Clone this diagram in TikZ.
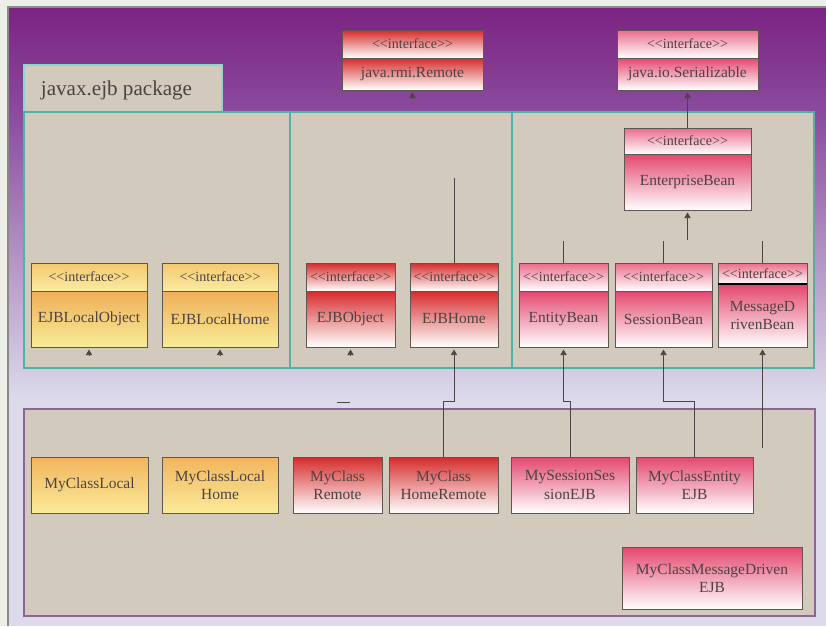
\documentclass[tikz,border=0pt]{standalone}
\usepackage{fontspec}
\setmainfont{Liberation Serif}
\usetikzlibrary{positioning, arrows.meta, calc, fit}

\definecolor{pagebg}{HTML}{EEEEE8}
\definecolor{framecol}{HTML}{8A8A88}
\definecolor{purpletop}{HTML}{7B2381}
\definecolor{purplemid}{HTML}{8A4B9E}
\definecolor{lavender}{HTML}{DCDAEB}
\definecolor{panelbg}{HTML}{D2CABD}
\definecolor{tealline}{HTML}{4FB2A3}
\definecolor{tabline}{HTML}{8ED6CC}
\definecolor{pkgline}{HTML}{8E6496}
\definecolor{edgecol}{HTML}{5F5650}
\definecolor{linecol}{HTML}{4A4444}
\definecolor{txtcol}{HTML}{4D4343}
\definecolor{redtop}{HTML}{D62B2B}
\definecolor{pinktop}{HTML}{E4476E}
\definecolor{lochdtop}{HTML}{F4C86E}
\definecolor{lochdbot}{HTML}{FBEBA2}
\definecolor{locbdtop}{HTML}{EFAF58}
\definecolor{locbdbot}{HTML}{F8EC98}
\definecolor{locclstop}{HTML}{F2B45C}
\definecolor{locclsbot}{HTML}{FAEB9A}

\tikzset{
  boxline/.style={draw=edgecol, line width=0.6pt},
  localhd/.style={top color=lochdtop, bottom color=lochdbot},
  localbd/.style={top color=locbdtop, bottom color=locbdbot},
  redhd/.style={top color=redtop, middle color=white, bottom color=white},
  redbd/.style={top color=redtop, middle color=redtop!35!white, bottom color=white},
  pinkhd/.style={top color=pinktop!80!white, middle color=white, bottom color=white},
  pinkbd/.style={top color=pinktop, middle color=pinktop!35!white, bottom color=white},
  localcls/.style={top color=locclstop, bottom color=locclsbot},
  redcls/.style={top color=redtop, middle color=redtop!15!white, bottom color=white},
  pinkcls/.style={top color=pinktop, middle color=pinktop!25!white, bottom color=white},
  stereo/.style={font=\fontsize{10}{11}\selectfont, text=txtcol, inner sep=0pt},
  cname/.style={font=\fontsize{11}{13}\selectfont, text=txtcol, align=center, inner sep=0pt},
  inh/.style={draw=linecol, line width=0.6pt, -{Triangle[width=4.5pt,length=4pt]}},
  plain/.style={draw=linecol, line width=0.6pt},
}

% Schnittstelle: Name, x1, y1, x2, y2, Trennlinie, Kopfstil, Rumpfstil, Text
\newcommand{\iface}[9]{%
  \path[#7] (#2,#3) rectangle (#4,#6);
  \path[#8] (#2,#6) rectangle (#4,#5);
  \draw[boxline] (#2,#6) -- (#4,#6);
  \node[boxline, fit={(#2,#3) (#4,#5)}, inner sep=0pt] (#1) {};
  \node[stereo] at ($(#2,#3)!0.5!(#4,#6)$) {{<}{<}interface{>}{>}};
  \node[cname] at ($(#2,#6)!0.5!(#4,#5)$) {#9};
}
% Klasse: Name, x1, y1, x2, y2, Stil, Text
\newcommand{\cls}[7]{%
  \node[boxline, #6, fit={(#2,#3) (#4,#5)}, inner sep=0pt] (#1) {};
  \node[cname] at (#1.center) {#7};
}

\begin{document}
\begin{tikzpicture}[x=0.025cm, y=-0.025cm]
\useasboundingbox (0,0) rectangle (826,626);

% Hintergrund
\fill[pagebg] (0,0) rectangle (826,626);
\shade[top color=purpletop, bottom color=purplemid] (8,7) rectangle (826,112);
\shade[top color=purplemid, bottom color=lavender] (8,112) rectangle (826,400);
\fill[lavender] (8,400) rectangle (826,626);
\draw[framecol, line width=1pt] (8,626) -- (8,7) -- (826,7);

% Paket javax.ejb
\filldraw[fill=panelbg, draw=tabline, line width=1pt] (24,65) rectangle (222,112);
\node[anchor=west, font=\fontsize{15}{17}\selectfont, text=txtcol] (tab) at (36,90) {javax.ejb package};
\filldraw[fill=panelbg, draw=tealline, line width=1.5pt] (24,112) rectangle (290,368);
\filldraw[fill=panelbg, draw=tealline, line width=1.5pt] (290,112) rectangle (512,368);
\filldraw[fill=panelbg, draw=tealline, line width=1.5pt] (512,112) rectangle (814,368);

% eigenes Paket
\filldraw[fill=panelbg, draw=pkgline, line width=1.2pt] (24,409) rectangle (815,616);

% Schnittstellen
\iface{remote}{342}{30}{483}{90}{58}{redhd}{redbd}{java.rmi.Remote}
\iface{serial}{617}{30}{758}{90}{58}{pinkhd}{pinkbd}{java.io.Serializable}
\iface{entbean}{624}{128}{751}{210}{154}{pinkhd}{pinkbd}{EnterpriseBean}
\iface{lobject}{31}{263}{147}{347}{291}{localhd}{localbd}{EJBLocalObject}
\iface{lhome}{162}{263}{278}{347}{291}{localhd}{localbd}{EJBLocalHome}
\iface{ejbobj}{306}{263}{395}{347}{291}{redhd}{redbd}{EJBObject}
\iface{ejbhome}{410}{263}{498}{347}{291}{redhd}{redbd}{EJBHome}
\iface{entity}{519}{263}{608}{347}{291}{pinkhd}{pinkbd}{EntityBean}
\iface{session}{615}{263}{712}{347}{291}{pinkhd}{pinkbd}{SessionBean}
\iface{msgdrv}{718}{263}{807}{347}{284}{pinkhd}{pinkbd}{MessageD\\rivenBean}
\draw[black, line width=1.2pt] (msgdrv.west |- 0,284) -- (msgdrv.east |- 0,284);

% Klassen
\cls{mylocal}{31}{457}{148}{513}{localcls}{MyClassLocal}
\cls{mylhome}{162}{457}{278}{513}{localcls}{MyClassLocal\\Home}
\cls{myremote}{293}{457}{382}{513}{redcls}{MyClass\\Remote}
\cls{myhremote}{389}{457}{498}{513}{redcls}{MyClass\\HomeRemote}
\cls{mysession}{511}{457}{629}{513}{pinkcls}{MySessionSes\\sionEJB}
\cls{myentity}{636}{457}{753}{513}{pinkcls}{MyClassEntity\\EJB}
\cls{mymsg}{622}{547}{802}{609}{pinkcls}{MyClassMessageDriven\\EJB}

% Vererbung
\coordinate (ebfoot) at ($(entbean.south)+(0,30)$);
\coordinate (mdfoot) at ($(msgdrv.south)+(0,101)$);
\draw[inh] (entbean.north) -- ([yshift=-1.5pt]serial.south);
\draw[inh] (ebfoot) -- ([yshift=-1.5pt]entbean.south);
\foreach \b in {remote, lobject, lhome, ejbobj}
  \draw[inh] ([yshift=-5.5pt]\b.south) -- ([yshift=-1.5pt]\b.south);
\foreach \b in {entity, session, msgdrv}
  \draw[plain] (\b.north) -- ++(0,-22);
\draw[plain] (ejbhome.north) -- ++(0,-85);

\draw[inh] (myhremote.north) -- ++(0,-55) -| ([yshift=-1.5pt]ejbhome.south);
\draw[inh] (mysession.north) -- ++(0,-55) -| ([yshift=-1.5pt]entity.south);
\draw[inh] (myentity.north) -- ++(0,-55) -| ([yshift=-1.5pt]session.south);
\draw[inh] (mdfoot) -- ([yshift=-1.5pt]msgdrv.south);
\draw[plain] (337,402) -- (350,402);

\end{tikzpicture}
\end{document}
